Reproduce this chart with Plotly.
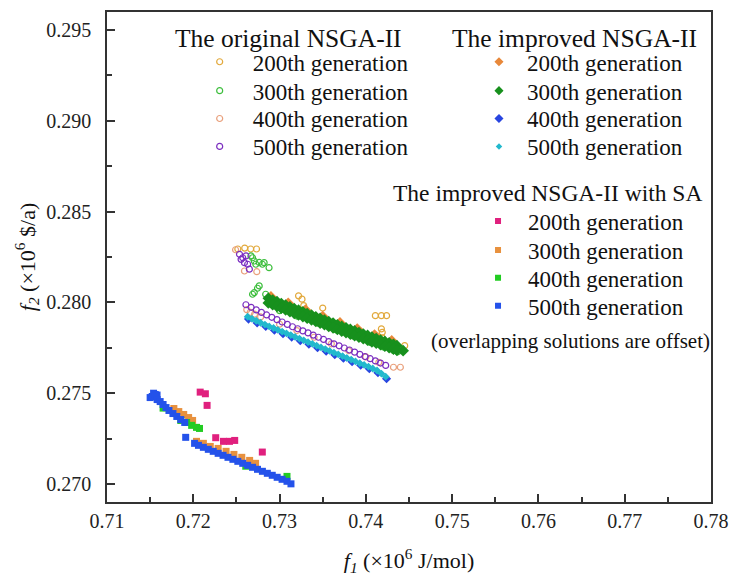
import plotly.graph_objects as go

# ---------------- data ----------------
# The original NSGA-II (open circles)
orig200_x = [0.72516, 0.72596, 0.72665, 0.72733, 0.7322, 0.7326, 0.7328, 0.7350, 0.7411, 0.7418, 0.7424, 0.7418, 0.7419, 0.7419, 0.7445]
orig200_y = [0.28294, 0.28299, 0.28294, 0.28294, 0.28036, 0.28018, 0.27982, 0.27969, 0.27927, 0.27927, 0.27927, 0.27854, 0.27835, 0.27805, 0.27762]

orig300_x = [0.72668, 0.72707, 0.72821, 0.72878, 0.72801, 0.72725, 0.72687, 0.72764,
             0.72764, 0.72744, 0.72707, 0.72839, 0.72687,
             0.7300, 0.7320, 0.7345, 0.7365, 0.7385, 0.7405, 0.7420, 0.7432, 0.7437, 0.7425]
orig300_y = [0.28256, 0.28228, 0.28219, 0.28191, 0.28210, 0.28210, 0.28246, 0.28220,
             0.28091, 0.28078, 0.28054, 0.28045, 0.28045,
             0.27955, 0.27925, 0.27885, 0.27850, 0.27815, 0.27780, 0.27755, 0.27735, 0.27728, 0.27770]

orig400_x = [0.7249, 0.72593, 0.72736, 0.7262, 0.7266, 0.7271, 0.7278, 0.7300, 0.7320, 0.7340, 0.7360, 0.7380, 0.7400, 0.7415, 0.7432, 0.7440]
orig400_y = [0.28290, 0.28173, 0.28169, 0.27960, 0.27945, 0.27935, 0.27920, 0.27880, 0.27845, 0.27808, 0.27772, 0.27735, 0.27700, 0.27670, 0.27643, 0.27643]

orig500_x = [0.72536, 0.72554, 0.72593, 0.72650, 0.72630, 0.72573, 0.72611,
             0.7261, 0.7267, 0.7273, 0.7279, 0.7285, 0.7291, 0.7297, 0.7303, 0.7309, 0.7315,
             0.7321, 0.7327, 0.7333, 0.7339, 0.7345, 0.7351, 0.7357, 0.7363, 0.7369, 0.7375,
             0.7381, 0.7387, 0.7393, 0.7399, 0.7405, 0.7411, 0.7417, 0.7423]
orig500_y = [0.28265, 0.28237, 0.28219, 0.28183, 0.28210, 0.28246, 0.28256,
             0.27987, 0.27973, 0.27959, 0.27945, 0.27931, 0.27918, 0.27905, 0.27892, 0.27879, 0.27866,
             0.27855, 0.27843, 0.27832, 0.27820, 0.27808, 0.27796, 0.27784, 0.27772, 0.27761, 0.27749,
             0.27738, 0.27726, 0.27714, 0.27702, 0.27690, 0.27678, 0.27666, 0.27653]

# The improved NSGA-II (diamonds)
imp200_x = [0.7290, 0.7310, 0.7330, 0.7350, 0.7370, 0.7390, 0.7410, 0.7430]
imp200_y = [0.28030, 0.27995, 0.27958, 0.27922, 0.27887, 0.27853, 0.27820, 0.27788]

imp300_x = [0.7287, 0.7292, 0.7297, 0.7302, 0.7307, 0.7312, 0.7317, 0.7322, 0.7327, 0.7332,
            0.7337, 0.7342, 0.7347, 0.7352, 0.7357, 0.7362, 0.7367, 0.7372, 0.7377, 0.7382,
            0.7387, 0.7392, 0.7397, 0.7402, 0.7407, 0.7412, 0.7417, 0.7422, 0.7427, 0.7432, 0.7436,
            0.7287, 0.7292, 0.7297, 0.7302, 0.7307, 0.7312, 0.7317, 0.7322, 0.7327, 0.7332,
            0.7337, 0.7342, 0.7347, 0.7352, 0.7357, 0.7362, 0.7367, 0.7372, 0.7377, 0.7382,
            0.7387, 0.7392, 0.7397, 0.7402, 0.7407, 0.7412, 0.7417, 0.7422, 0.7427, 0.7432, 0.7436,
            0.74432]
imp300_y = [0.28023, 0.28013, 0.28004, 0.27994, 0.27985, 0.27975, 0.27966, 0.27957, 0.27948, 0.27939,
            0.27930, 0.27921, 0.27912, 0.27903, 0.27894, 0.27886, 0.27877, 0.27868, 0.27860, 0.27851,
            0.27843, 0.27834, 0.27826, 0.27818, 0.27809, 0.27801, 0.27793, 0.27785, 0.27777, 0.27769, 0.27762,
            0.27997, 0.27987, 0.27978, 0.27968, 0.27959, 0.27949, 0.27940, 0.27931, 0.27922, 0.27913,
            0.27904, 0.27895, 0.27886, 0.27877, 0.27868, 0.27860, 0.27851, 0.27842, 0.27834, 0.27825,
            0.27817, 0.27808, 0.27800, 0.27792, 0.27783, 0.27775, 0.27767, 0.27759, 0.27751, 0.27743, 0.27736,
            0.27734]

imp400_x = [0.7264, 0.7274, 0.7284, 0.7294, 0.7304, 0.7314, 0.7324, 0.7334, 0.7344, 0.7354,
            0.7364, 0.7374, 0.7384, 0.7394, 0.7404, 0.7414, 0.7424]
imp400_y = [0.27908, 0.27887, 0.27867, 0.27847, 0.27828, 0.27809, 0.27789, 0.27770, 0.27751, 0.27731,
            0.27712, 0.27693, 0.27673, 0.27654, 0.27635, 0.27613, 0.27580]

imp500_x = [0.7263, 0.7268, 0.7273, 0.7278, 0.7283, 0.7288, 0.7293, 0.7298, 0.7303, 0.7308,
            0.7313, 0.7318, 0.7323, 0.7328, 0.7333, 0.7338, 0.7343, 0.7348, 0.7353, 0.7358,
            0.7363, 0.7368, 0.7373, 0.7378, 0.7383, 0.7388, 0.7393, 0.7398, 0.7403, 0.7408,
            0.7413, 0.7418, 0.7423]
imp500_y = [0.27921, 0.27910, 0.27899, 0.27888, 0.27878, 0.27868, 0.27859, 0.27849, 0.27839, 0.27830,
            0.27820, 0.27810, 0.27801, 0.27791, 0.27781, 0.27772, 0.27762, 0.27752, 0.27743, 0.27733,
            0.27723, 0.27714, 0.27704, 0.27694, 0.27685, 0.27675, 0.27665, 0.27656, 0.27646, 0.27636,
            0.27625, 0.27608, 0.27591]

# The improved NSGA-II with SA (squares)
sa200_x = [0.7208, 0.7214, 0.7216, 0.7226, 0.7235, 0.7242, 0.7248, 0.7280]
sa200_y = [0.27506, 0.27497, 0.27433, 0.27255, 0.27235, 0.27235, 0.27240, 0.27176]

sa300_x = [0.71775, 0.71832, 0.71889, 0.71946, 0.71992,
           0.72037, 0.72117, 0.72197, 0.72288, 0.72380, 0.72471, 0.72562, 0.72653, 0.72722]
sa300_y = [0.27416, 0.27399, 0.27383, 0.27366, 0.27350,
           0.27235, 0.27224, 0.27207, 0.27196, 0.27180, 0.27163, 0.27147, 0.27130, 0.27114]

sa400_x = [0.71650, 0.71855, 0.71923, 0.71981, 0.72037, 0.72072, 0.72608, 0.73086]
sa400_y = [0.27418, 0.27350, 0.27339, 0.27323, 0.27312, 0.27306, 0.27098, 0.27042]

sa500_x = [0.71500, 0.71540, 0.71580, 0.71524, 0.71559, 0.71581, 0.71616, 0.71650, 0.71684, 0.71718,
           0.71764, 0.71809, 0.71855, 0.71901, 0.71912,
           0.72015, 0.72060, 0.72117, 0.72174, 0.72231, 0.72288, 0.72345, 0.72402, 0.72459, 0.72516,
           0.72573, 0.72630, 0.72687, 0.72744, 0.72801, 0.72858, 0.72915, 0.72972, 0.73029, 0.73086, 0.73132]
sa500_y = [0.27476, 0.27500, 0.27490, 0.27482, 0.27493, 0.27465, 0.27454, 0.27438, 0.27421, 0.27405,
           0.27388, 0.27372, 0.27355, 0.27339, 0.27257,
           0.27224, 0.27213, 0.27202, 0.27191, 0.27180, 0.27169, 0.27158, 0.27147, 0.27136, 0.27125,
           0.27114, 0.27103, 0.27092, 0.27081, 0.27070, 0.27059, 0.27048, 0.27037, 0.27026, 0.27015, 0.27001]

gen_labels = ["200th generation", "300th generation", "400th generation", "500th generation"]
group_titles = ["The original NSGA-II", "The improved NSGA-II", "The improved NSGA-II with SA"]
note_text = "(overlapping solutions are offset)"

x_ticks = [0.71, 0.72, 0.73, 0.74, 0.75, 0.76, 0.77, 0.78]
y_ticks = [0.270, 0.275, 0.280, 0.285, 0.290, 0.295]

# ---------------- styling ----------------
FONT = "Liberation Serif"
W, H = 739, 580
L, R, T, B = 107, 721, 10, 502


def px(xp):
    return (xp - L) / (R - L)


def py(yp):
    return (B - yp) / (B - T)


fig = go.Figure()

orig_cols = ["#E2A93C", "#3DBE3D", "#E9A07C", "#7B2EC0"]
imp_cols = ["#E8883A", "#17901D", "#2845E0", "#22B9CD"]
sa_cols = ["#E0207E", "#E8913E", "#22CC22", "#2452EA"]

orig_data = [(orig200_x, orig200_y), (orig300_x, orig300_y), (orig400_x, orig400_y), (orig500_x, orig500_y)]
imp_data = [(imp200_x, imp200_y), (imp300_x, imp300_y), (imp400_x, imp400_y), (imp500_x, imp500_y)]
sa_data = [(sa200_x, sa200_y), (sa300_x, sa300_y), (sa400_x, sa400_y), (sa500_x, sa500_y)]

# legend placement (pixels): box left x, row centre y, item width
rows_top = [60, 89, 117, 145]
rows_sa = [220, 249, 277, 305]
leg_x = [188, 477, 474]
leg_iw = [56, 46, 50]
leg_rows = [rows_top, rows_top, rows_sa]


def leg_name(idx):
    return "legend" if idx == 0 else "legend%d" % (idx + 1)


LEG_FONT = dict(family=FONT, size=23, color="#111")
groups = [(orig_data, orig_cols, "circle-open", [6, 6, 6, 6], [6, 6, 6, 6]),
          (imp_data, imp_cols, "diamond", [9, 9, 7, 6], [7, 7, 7, 5]),
          (sa_data, sa_cols, "square", [7, 7, 7, 7], [6, 6, 6, 6])]
legend_layout = {}
k = 0
for g, (data, cols, sym, sizes, leg_sizes) in enumerate(groups):
    for i, (xs, ys) in enumerate(data):
        name = leg_name(k)
        line = dict(width=1.2, color=cols[i]) if sym == "circle-open" else dict(width=0)
        fig.add_trace(go.Scatter(x=xs, y=ys, mode="markers", name=gen_labels[i], legend=name,
                                 showlegend=False,
                                 marker=dict(symbol=sym, size=sizes[i], color=cols[i], line=line)))
        # legend entry (no data points)
        fig.add_trace(go.Scatter(x=[None], y=[None], mode="markers", name=gen_labels[i], legend=name,
                                 marker=dict(symbol=sym, size=leg_sizes[i], color=cols[i], line=line)))
        legend_layout[name] = dict(x=px(leg_x[g]), y=py(leg_rows[g][i]), xanchor="left", yanchor="middle",
                                   bgcolor="rgba(0,0,0,0)", borderwidth=0, font=LEG_FONT,
                                   itemsizing="trace", itemwidth=leg_iw[g])
        k += 1
fig.update_layout(**legend_layout)

fig.add_annotation(text=group_titles[0], x=px(174), y=py(37), xref="paper", yref="paper",
                   xanchor="left", yanchor="middle", showarrow=False,
                   font=dict(family=FONT, size=25.5, color="#111"))
fig.add_annotation(text=group_titles[1], x=px(456), y=py(37), xref="paper", yref="paper",
                   xanchor="left", yanchor="middle", showarrow=False,
                   font=dict(family=FONT, size=25.5, color="#111"))
fig.add_annotation(text=group_titles[2], x=px(396), y=py(192), xref="paper", yref="paper",
                   xanchor="left", yanchor="middle", showarrow=False,
                   font=dict(family=FONT, size=23.5, color="#111"))
fig.add_annotation(text=note_text, x=px(434), y=py(340), xref="paper", yref="paper",
                   xanchor="left", yanchor="middle", showarrow=False,
                   font=dict(family=FONT, size=21, color="#111"))

axis_common = dict(showline=True, linecolor="#333", linewidth=1.5, mirror=True, showgrid=False,
                   zeroline=False, ticks="inside", ticklen=8, tickwidth=1.5, tickcolor="#333",
                   tickfont=dict(family=FONT, size=20, color="#222"))

fig.update_xaxes(range=[0.71, 0.78], tickvals=x_ticks, tickformat=".2f",
                 minor=dict(dtick=0.005, tick0=0.71, ticks="inside", ticklen=5, tickwidth=1.5, tickcolor="#333"),
                 title=dict(text="<i>f</i><sub><i>1</i></sub> (×10<sup>6</sup> J/mol)",
                            font=dict(family=FONT, size=22, color="#111"), standoff=22),
                 ticklabelstandoff=0, **axis_common)
fig.update_yaxes(range=[0.26901, 0.29599], tickvals=y_ticks, tickformat=".3f",
                 minor=dict(dtick=0.0025, tick0=0.27, ticks="inside", ticklen=5, tickwidth=1.5, tickcolor="#333"),
                 title=dict(text="<i>f</i><sub><i>2</i></sub> (×10<sup>6</sup> $/a)",
                            font=dict(family=FONT, size=22, color="#111"), standoff=5),
                 ticklabelstandoff=10, **axis_common)

fig.update_layout(width=W, height=H, margin=dict(l=L, r=W - R, t=T, b=H - B),
                  font=dict(family=FONT, color="#111"),
                  plot_bgcolor="white", paper_bgcolor="white")

fig.write_html("out.html")
